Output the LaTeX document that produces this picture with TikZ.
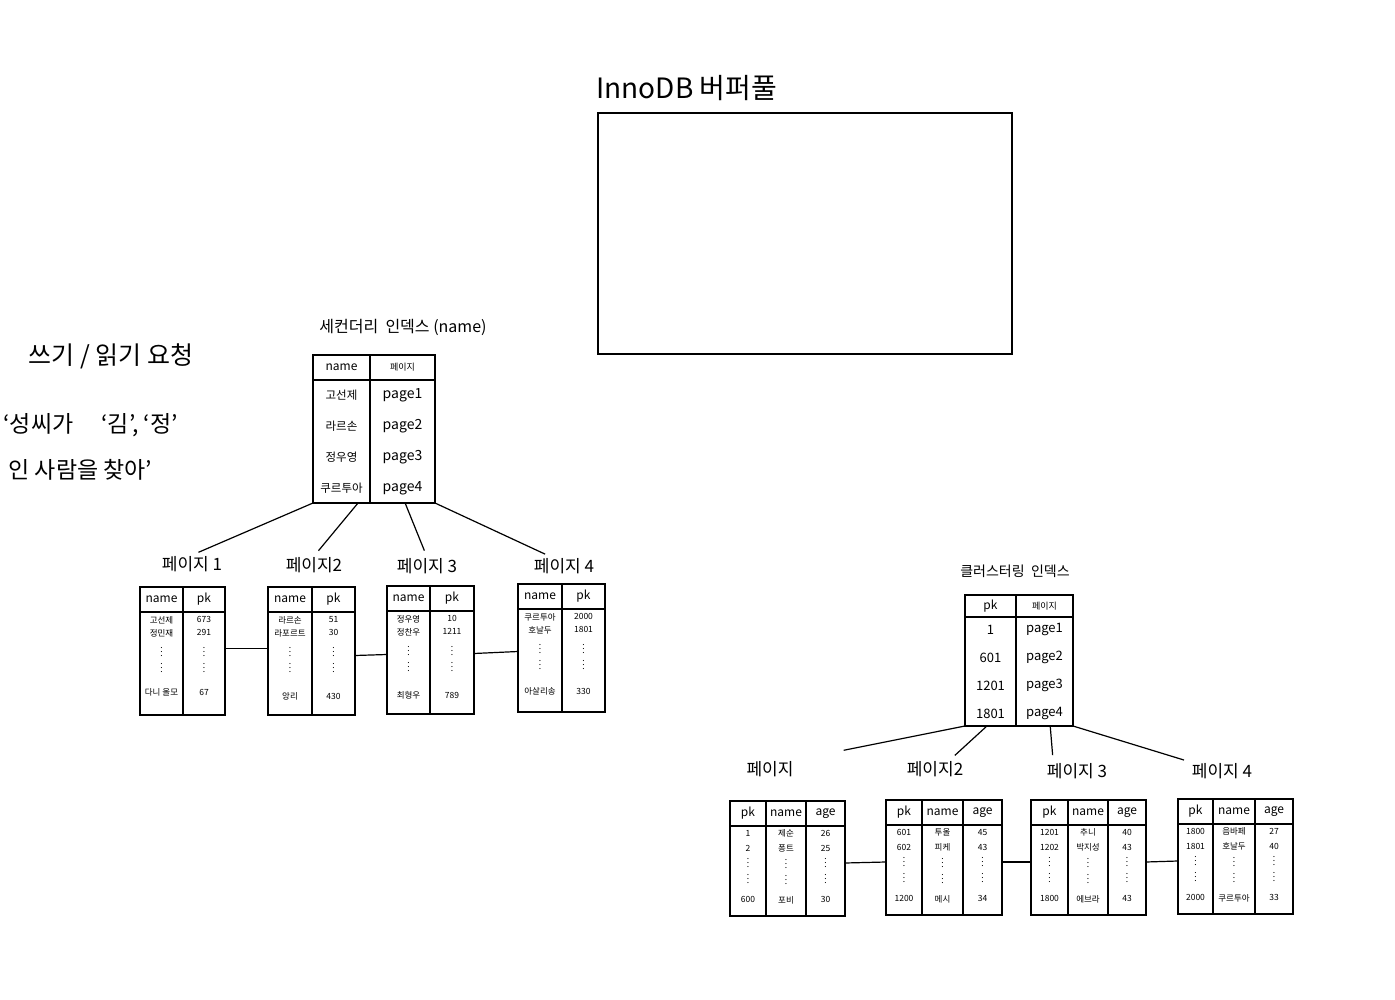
\documentclass[tikz,border=0pt]{standalone}
\usepackage{fontspec}
\setmainfont{Noto Sans CJK KR}
\usetikzlibrary{positioning, calc}

\begin{document}
\begin{tikzpicture}[
  x=1pt, y=-1pt,
  cell/.style={draw, line width=1.5pt, outer sep=0pt, inner sep=1pt, align=center},
  hcell/.style={cell, minimum height=25pt, font=\fontsize{12}{14}\selectfont},
  leaf/.style={cell, minimum height=103pt, font=\fontsize{8.5}{13}\selectfont},
  cleaf/.style={cell, minimum height=90pt, font=\fontsize{8.5}{15}\selectfont},
  ttl/.style={font=\fontsize{17}{18}\selectfont, inner sep=1pt},
  link/.style={line width=1.2pt, shorten >=7pt},
  joint/.style={line width=1.2pt},
]
\useasboundingbox (0,0) rectangle (1395,1000);

% InnoDB 버퍼풀
\node[draw, line width=1.8pt, minimum width=414pt, minimum height=241pt, anchor=north west] (pool) at (597,112) {};
\node[font=\fontsize{28}{30}\selectfont, anchor=south west] (poolt) at (593,104) {InnoDB 버퍼풀};

% 요청
\node[font=\fontsize{25}{28}\selectfont] (req) at (111,356) {쓰기 / 읽기 요청};
\node[font=\fontsize{23}{46}\selectfont, align=left, anchor=north west] (query) at (0,410)
  {`성씨가 \quad `김', `정'\\\ 인 사람을 찾아'};

% 세컨더리 인덱스
\node[font=\fontsize{16}{18}\selectfont] (srt) at (403,327) {세컨더리 \ 인덱스 (name)};
\node[hcell, minimum width=57pt, anchor=north west] (srh1) at (313,355) {name};
\node[hcell, minimum width=65pt, right=0pt of srh1, font=\fontsize{9}{10}\selectfont] (srh2) {페이지};
\node[cell, minimum width=57pt, minimum height=123pt, below=0pt of srh1, font=\fontsize{11.5}{31}\selectfont] (srb1) {고선제\\라르손\\정우영\\쿠르투아};
\node[cell, minimum width=65pt, minimum height=123pt, below=0pt of srh2, font=\fontsize{14}{31}\selectfont] (srb2) {page1\\page2\\page3\\page4};

% 세컨더리 리프 페이지
\node[ttl] (p1t) at (192,564) {페이지 1};
\node[ttl] (p2t) at (314,565) {페이지2};
\node[ttl] (p3t) at (427,566) {페이지 3};
\node[ttl] (p4t) at (564,566) {페이지 4};

\node[hcell, minimum width=43pt, anchor=north west] (p1h1) at (140,587) {name};
\node[hcell, minimum width=42pt, right=0pt of p1h1] (p1h2) {pk};
\node[leaf, minimum width=43pt, below=0pt of p1h1] (p1b1) {고선제\\정민재\\[4pt]$\vdots$\\$\vdots$\\[10pt]다니 올모\\[2pt]\mbox{}};
\node[leaf, minimum width=42pt, below=0pt of p1h2] (p1b2) {673\\291\\[4pt]$\vdots$\\$\vdots$\\[10pt]67\\[2pt]\mbox{}};

\node[hcell, minimum width=44pt, anchor=north west] (p2h1) at (268,587) {name};
\node[hcell, minimum width=43pt, right=0pt of p2h1] (p2h2) {pk};
\node[leaf, minimum width=44pt, below=0pt of p2h1] (p2b1) {라르손\\라포르트\\[4pt]$\vdots$\\$\vdots$\\[14pt]앙리\\[-2pt]\mbox{}};
\node[leaf, minimum width=43pt, below=0pt of p2h2] (p2b2) {51\\30\\[4pt]$\vdots$\\$\vdots$\\[14pt]430\\[-2pt]\mbox{}};

\node[hcell, minimum width=43pt, anchor=north west] (p3h1) at (387,586) {name};
\node[hcell, minimum width=44pt, right=0pt of p3h1] (p3h2) {pk};
\node[leaf, minimum width=43pt, below=0pt of p3h1] (p3b1) {정우영\\정찬우\\[4pt]$\vdots$\\$\vdots$\\[14pt]최형우\\[-2pt]\mbox{}};
\node[leaf, minimum width=44pt, below=0pt of p3h2] (p3b2) {10\\1211\\[4pt]$\vdots$\\$\vdots$\\[14pt]789\\[-2pt]\mbox{}};

\node[hcell, minimum width=44pt, anchor=north west] (p4h1) at (518,584) {name};
\node[hcell, minimum width=43pt, right=0pt of p4h1] (p4h2) {pk};
\node[leaf, minimum width=44pt, below=0pt of p4h1] (p4b1) {쿠르투아\\호날두\\[4pt]$\vdots$\\$\vdots$\\[12pt]아살리송\\[0pt]\mbox{}};
\node[leaf, minimum width=43pt, below=0pt of p4h2] (p4b2) {2000\\1801\\[4pt]$\vdots$\\$\vdots$\\[12pt]330\\[0pt]\mbox{}};

% 루트 -> 리프
\draw[link] (srb1.south west) -- (p1t.north);
\draw[link] ($(srb1.south west)!0.79!(srb1.south east)$) -- (p2t.north);
\draw[link] ($(srb2.south west)!0.54!(srb2.south east)$) -- (p3t.north);
\draw[link] (srb2.south east) -- ($(p4t.north west)!0.3!(p4t.north east)$);
% 리프끼리
\draw[joint] ([yshift=15pt]p1b2.east) -- ([yshift=15pt]p2b1.west);
\draw[joint] ([yshift=8pt]p2b2.east) -- ([yshift=8pt]p3b1.west);
\draw[joint] ([yshift=9pt]p3b2.east) -- ([yshift=9pt]p4b1.west);

% 클러스터링 인덱스
\node[font=\fontsize{14}{16}\selectfont] (crt) at (1015,571) {클러스터링 \ 인덱스};
\node[hcell, minimum width=51pt, minimum height=22pt, anchor=north west] (crh1) at (965,595) {pk};
\node[hcell, minimum width=57pt, minimum height=22pt, right=0pt of crh1, font=\fontsize{9}{10}\selectfont] (crh2) {페이지};
\node[cell, minimum width=51pt, minimum height=109pt, below=0pt of crh1, font=\fontsize{13}{28}\selectfont] (crb1) {1\\601\\1201\\1801};
\node[cell, minimum width=57pt, minimum height=109pt, below=0pt of crh2, font=\fontsize{13}{28}\selectfont] (crb2) {page1\\page2\\page3\\page4};

% 클러스터링 리프 페이지
\node[ttl] (c1t) at (770,769) {페이지};
\node[ttl] (c2t) at (935,769) {페이지2};
\node[ttl] (c3t) at (1077,771) {페이지 3};
\node[ttl] (c4t) at (1222,771) {페이지 4};

\node[hcell, minimum width=36pt, anchor=north west] (c1h1) at (730,801) {pk};
\node[hcell, minimum width=40pt, right=0pt of c1h1] (c1h2) {name};
\node[hcell, minimum width=39pt, right=0pt of c1h2] (c1h3) {age};
\node[cleaf, minimum width=36pt, below=0pt of c1h1] (c1b1) {1\\2\\$\vdots$\\$\vdots$\\[4pt]600\\[-6pt]\mbox{}};
\node[cleaf, minimum width=40pt, below=0pt of c1h2] (c1b2) {제순\\퐁트\\$\vdots$\\$\vdots$\\[4pt]포비\\[-6pt]\mbox{}};
\node[cleaf, minimum width=39pt, below=0pt of c1h3] (c1b3) {26\\25\\$\vdots$\\$\vdots$\\[4pt]30\\[-6pt]\mbox{}};

\node[hcell, minimum width=36pt, anchor=north west] (c2h1) at (886,800) {pk};
\node[hcell, minimum width=41pt, right=0pt of c2h1] (c2h2) {name};
\node[hcell, minimum width=39pt, right=0pt of c2h2] (c2h3) {age};
\node[cleaf, minimum width=36pt, below=0pt of c2h1] (c2b1) {601\\602\\$\vdots$\\$\vdots$\\[4pt]1200\\[-6pt]\mbox{}};
\node[cleaf, minimum width=41pt, below=0pt of c2h2] (c2b2) {투올\\피케\\$\vdots$\\$\vdots$\\[4pt]메시\\[-6pt]\mbox{}};
\node[cleaf, minimum width=39pt, below=0pt of c2h3] (c2b3) {45\\43\\$\vdots$\\$\vdots$\\[4pt]34\\[-6pt]\mbox{}};

\node[hcell, minimum width=37pt, anchor=north west] (c3h1) at (1031,800) {pk};
\node[hcell, minimum width=40pt, right=0pt of c3h1] (c3h2) {name};
\node[hcell, minimum width=38pt, right=0pt of c3h2] (c3h3) {age};
\node[cleaf, minimum width=37pt, below=0pt of c3h1] (c3b1) {1201\\1202\\$\vdots$\\$\vdots$\\[4pt]1800\\[-6pt]\mbox{}};
\node[cleaf, minimum width=40pt, below=0pt of c3h2] (c3b2) {추니\\박지성\\$\vdots$\\$\vdots$\\[4pt]에브라\\[-6pt]\mbox{}};
\node[cleaf, minimum width=38pt, below=0pt of c3h3] (c3b3) {40\\43\\$\vdots$\\$\vdots$\\[4pt]43\\[-6pt]\mbox{}};

\node[hcell, minimum width=35pt, anchor=north west] (c4h1) at (1178,799) {pk};
\node[hcell, minimum width=42pt, right=0pt of c4h1] (c4h2) {name};
\node[hcell, minimum width=38pt, right=0pt of c4h2] (c4h3) {age};
\node[cleaf, minimum width=35pt, below=0pt of c4h1] (c4b1) {1800\\1801\\$\vdots$\\$\vdots$\\[4pt]2000\\[-6pt]\mbox{}};
\node[cleaf, minimum width=42pt, below=0pt of c4h2] (c4b2) {음바페\\호날두\\$\vdots$\\$\vdots$\\[4pt]쿠르투아\\[-6pt]\mbox{}};
\node[cleaf, minimum width=38pt, below=0pt of c4h3] (c4b3) {27\\40\\$\vdots$\\$\vdots$\\[4pt]33\\[-6pt]\mbox{}};

% 루트 -> 리프
\draw[link, shorten >=50pt] (crb1.south west) -- (c1t.north east);
\draw[link] ($(crb1.south west)!0.43!(crb1.south east)$) -- ($(c2t.north)!0.5!(c2t.north east)$);
\draw[link] ($(crb2.south west)!0.6!(crb2.south east)$) -- ($(c3t.north west)!0.12!(c3t.north east)$);
\draw[link] (crb2.south east) -- (c4t.north west);
% 리프끼리
\draw[joint] ([yshift=8pt]c1b3.east) -- ([yshift=8pt]c2b1.west);
\draw[joint] ([yshift=8pt]c2b3.east) -- ([yshift=8pt]c3b1.west);
\draw[joint] ([yshift=8pt]c3b3.east) -- ([yshift=8pt]c4b1.west);
\end{tikzpicture}
\end{document}
